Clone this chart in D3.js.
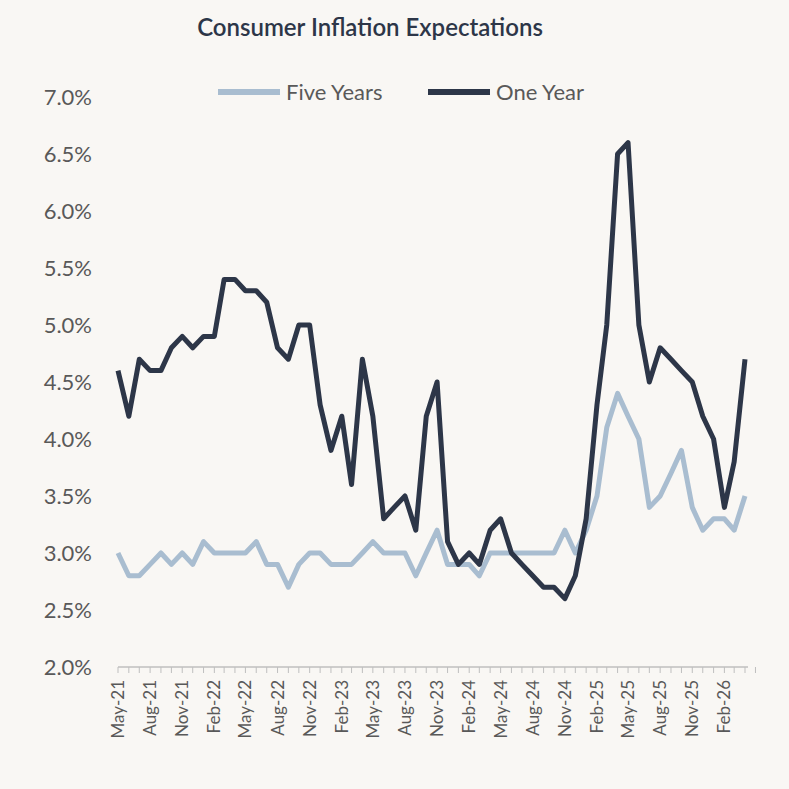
<!DOCTYPE html>
<html><head><meta charset="utf-8">
<script src="https://cdn.jsdelivr.net/npm/d3@7"></script>
<style>body{margin:0;background:#f9f7f4;}</style>
</head><body><svg id="chart" width="789" height="789"></svg>
<script>
var months = [];
var start = new Date(2021, 4, 1);
for (var i = 0; i < 60; i++) months.push(new Date(2021, 4 + i, 1));
var oneYear = [4.6,4.2,4.7,4.6,4.6,4.8,4.9,4.8,4.9,4.9,5.4,5.4,5.3,5.3,5.2,4.8,4.7,5.0,5.0,4.3,
  3.9,4.2,3.6,4.7,4.2,3.3,3.4,3.5,3.2,4.2,4.5,3.1,2.9,3.0,2.9,3.2,3.3,3.0,2.9,2.8,
  2.7,2.7,2.6,2.8,3.3,4.3,5.0,6.5,6.6,5.0,4.5,4.8,4.7,4.6,4.5,4.2,4.0,3.4,3.8,4.7];
var fiveYears = [3.0,2.8,2.8,2.9,3.0,2.9,3.0,2.9,3.1,3.0,3.0,3.0,3.0,3.1,2.9,2.9,2.7,2.9,3.0,3.0,
  2.9,2.9,2.9,3.0,3.1,3.0,3.0,3.0,2.8,3.0,3.2,2.9,2.9,2.9,2.8,3.0,3.0,3.0,3.0,3.0,
  3.0,3.0,3.2,3.0,3.2,3.5,4.1,4.4,4.2,4.0,3.4,3.5,3.7,3.9,3.4,3.2,3.3,3.3,3.2,3.5];
var yTicks = [2.0,2.5,3.0,3.5,4.0,4.5,5.0,5.5,6.0,6.5,7.0];

var svg = d3.select("#chart");
var font = "Lato, 'Open Sans', sans-serif";
var x = d3.scaleTime().domain([months[0], months[59]]).range([118, 745]);
var y = d3.scaleLinear().domain([2, 7]).range([667, 97]);

svg.append("text").attr("x", 370).attr("y", 36).attr("text-anchor", "middle")
    .attr("font-family", font).attr("font-size", 24).attr("font-weight", 600)
    .attr("fill", "#2d3648").text("Consumer Inflation Expectations");

// y labels
svg.append("g").selectAll("text").data(yTicks).enter().append("text")
    .attr("x", 92).attr("y", d => y(d) + 8).attr("text-anchor", "end")
    .attr("font-family", font).attr("font-size", 22).attr("fill", "#595959")
    .text(d => d.toFixed(1) + "%");

// x axis
svg.append("line").attr("x1", 118).attr("x2", 748).attr("y1", 667).attr("y2", 667)
    .attr("stroke", "#bfbfbf").attr("stroke-width", 1.5);
svg.append("g").selectAll("line").data(months.concat([new Date(2026, 4, 1)])).enter().append("line")
    .attr("x1", d => x(d)).attr("x2", d => x(d)).attr("y1", 667).attr("y2", 673)
    .attr("stroke", "#bfbfbf");
var fmt = d3.timeFormat("%b-%y");
svg.append("g").selectAll("text").data(months.filter((d, i) => i % 3 == 0)).enter().append("text")
    .attr("transform", d => "translate(" + (x(d) + 6) + ",680) rotate(-90)")
    .attr("text-anchor", "end").attr("font-family", font).attr("font-size", 17)
    .attr("fill", "#595959").text(d => fmt(d));

var line = d3.line().x((d, i) => x(months[i])).y(d => y(d));
svg.append("path").attr("d", line(fiveYears)).attr("fill", "none")
    .attr("stroke", "#a9bdd0").attr("stroke-width", 5).attr("stroke-linejoin", "round");
svg.append("path").attr("d", line(oneYear)).attr("fill", "none")
    .attr("stroke", "#2d3648").attr("stroke-width", 5).attr("stroke-linejoin", "round");

// legend
var legend = [["Five Years", "#a9bdd0", 218], ["One Year", "#2d3648", 428]];
legend.forEach(function (l) {
    svg.append("line").attr("x1", l[2]).attr("x2", l[2] + 62).attr("y1", 92).attr("y2", 92)
        .attr("stroke", l[1]).attr("stroke-width", 6);
    svg.append("text").attr("x", l[2] + 68).attr("y", 100).attr("font-family", font)
        .attr("font-size", 22).attr("fill", "#595959").text(l[0]);
});
</script></body></html>
